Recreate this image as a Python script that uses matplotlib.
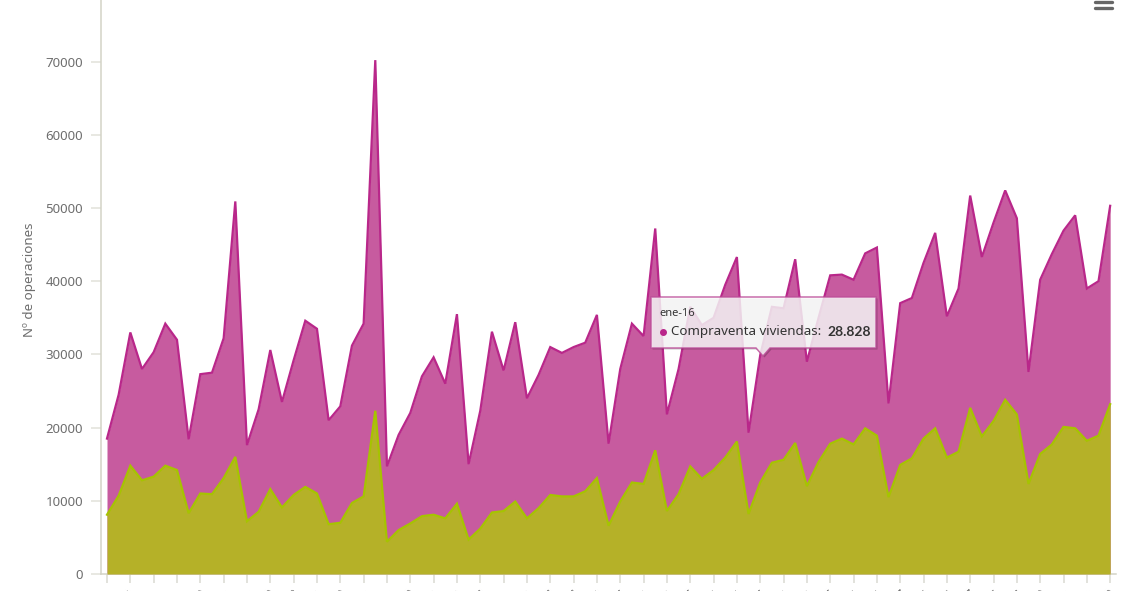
# -*- coding: utf-8 -*-
import matplotlib
matplotlib.use('Agg')
import matplotlib.pyplot as plt
from matplotlib.patches import Polygon
from matplotlib.lines import Line2D
from matplotlib.transforms import Affine2D

plt.rcParams['font.family'] = ['Noto Sans', 'DejaVu Sans']

viviendas = [18500, 24500, 33000, 28000, 30300, 34200, 32000, 18400, 27300, 27500,
             32200, 50900, 17600, 22500, 30600, 23500, 29200, 34600, 33500, 21000,
             22900, 31200, 34200, 70200, 14700, 19000, 22000, 27000, 29600, 26000,
             35500, 15000, 22300, 33100, 27800, 34400, 24000, 27200, 31000, 30200,
             31000, 31600, 35400, 17800, 28000, 34200, 32500, 47200, 21800, 28000,
             36500, 34000, 35000, 39500, 43300, 19300, 29900, 36500, 36300, 43000,
             29000, 35000, 40800, 40900, 40200, 43800, 44600, 23300, 37000, 37700,
             42500, 46600, 35200, 39000, 51700, 43300, 48000, 52400, 48600, 27600,
             40200, 43700, 46900, 49000, 39000, 40000, 50300]

otra_serie = [8100, 10700, 14800, 12800, 13300, 14800, 14200, 8300, 11000, 10900,
              13100, 16000, 7200, 8500, 11600, 9100, 10800, 11900, 11000, 6800,
              7000, 9700, 10600, 22300, 4400, 6000, 6900, 7900, 8100, 7600,
              9600, 4700, 6200, 8400, 8600, 9900, 7600, 9000, 10800, 10600,
              10600, 11300, 13100, 6600, 9900, 12500, 12300, 16900, 8600, 10900,
              14700, 13000, 14200, 15900, 18100, 8200, 12500, 15200, 15600, 17900,
              12000, 15300, 17800, 18500, 17700, 19900, 18900, 10500, 14900, 15800,
              18500, 19900, 15900, 16700, 22700, 18800, 20900, 23800, 21800, 12300,
              16400, 17700, 20100, 19900, 18200, 18900, 23200]

meses = ['ene', 'feb', 'mar', 'abr', 'may', 'jun', 'jul', 'ago', 'sep', 'oct', 'nov', 'dic']
fechas = [f'{meses[(4 + i) % 12]}-{11 + (4 + i) // 12}' for i in range(len(viviendas))]
x = list(range(len(viviendas)))
y_ticks = [0, 10000, 20000, 30000, 40000, 50000, 60000, 70000]

W, H = 1128, 591
fig = plt.figure(figsize=(W / 100, H / 100), dpi=100, facecolor='white')
ax = fig.add_axes([100.5 / W, 1 - 574 / H, (1116 - 100.5) / W, 574 / H])
ax.set_facecolor('white')

ax.fill_between(x, viviendas, color='#C75B9F', lw=0, zorder=2)
ax.plot(x, viviendas, color='#B9278A', lw=1.6, zorder=3, solid_joinstyle='miter')
ax.fill_between(x, otra_serie, color='#B5B128', lw=0, zorder=4)
ax.plot(x, otra_serie, color='#A6C400', lw=1.6, zorder=5, solid_joinstyle='miter')

ax.set_xlim(-0.557, 86.5)
ax.set_ylim(0, 78415)

for s in ['top', 'right']:
    ax.spines[s].set_visible(False)
for s in ['left', 'bottom']:
    ax.spines[s].set_color('#D3D3C6')
    ax.spines[s].set_linewidth(1.1)

ax.set_yticks(y_ticks)
ax.set_yticklabels([str(v) for v in y_ticks])
ax.tick_params(axis='y', length=7.5, width=1.1, color='#E2E2DA', pad=5,
               labelsize=9.5, labelcolor='#6E6E6E')
ax.set_xticks(x[::2])
ax.set_xticklabels(fechas[::2], rotation=45, ha='right', rotation_mode='anchor', fontsize=9.5, color='#6E6E6E')
ax.tick_params(axis='x', length=6.5, width=1.1, color='#DADAD2', pad=3)

fig.text(29 / W, 1 - 280 / H, 'Nº de operaciones', rotation=90, ha='center', va='center',
         fontsize=9.6, color='#6E6E6E')

# todo lo de abajo va en pixeles de la imagen
px = Affine2D().scale(1 / W, -1 / H).translate(0, 1) + fig.transFigure

for yy in [2, 8]:
    fig.add_artist(Line2D([1095, 1112], [yy, yy], transform=px, color='#666666', lw=2.4,
                          solid_capstyle='round'))

caja = [(651, 297), (876, 297), (876, 348), (770, 348), (763, 356), (756, 348), (651, 348)]
sombra = [(a + 1.5, b + 1.5) for a, b in caja]
fig.add_artist(Polygon(sombra, closed=True, transform=px, fc='#000000', ec='none', alpha=0.22, zorder=8))
fig.add_artist(Polygon(caja, closed=True, transform=px, fc='white', ec='#BC4C98', lw=1.1, alpha=0.82, zorder=9))
fig.text(659 / W, 1 - 314 / H, fechas[56], fontsize=8, color='#333333', va='center', zorder=10)
fig.add_artist(Line2D([663], [331.5], transform=px, marker='o', ms=4, color='#B9278A', zorder=10))
fig.text(671 / W, 1 - 331.5 / H, 'Compraventa viviendas:', fontsize=9.6, color='#333333', va='center', zorder=10)
fig.text(827 / W, 1 - 331.5 / H, '28.828', fontsize=10, family='Lato', fontweight='bold', color='#333333', va='center', zorder=10)

fig.savefig('out.png', dpi=100)
